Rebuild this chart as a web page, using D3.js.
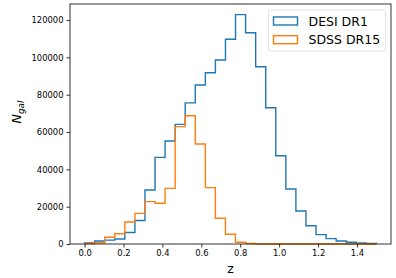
<!DOCTYPE html>
<html>
<head>
<meta charset="utf-8">
<script src="https://cdn.jsdelivr.net/npm/d3@7"></script>
<style>
    body { margin: 0; background: #fff; }
    svg { display: block; font-family: 'DejaVu Sans', sans-serif; }
</style>
</head>
<body>
<div id="chart"></div>
<script>
// === Data: 29 bins, edges linspace(0, 1.5, 30) ===
const binStart = 0;
const binEnd = 1.5;
const binCount = 29;

const desiCounts = [500, 1600, 2100, 2700, 6200, 12600, 28900, 46400, 55200, 64100,
    75600, 85200, 91800, 98600, 109700, 122900, 113200, 95000, 73000, 47300,
    29500, 17700, 9800, 5000, 2900, 1600, 900, 500, 300];

const sdssCounts = [300, 700, 3600, 5500, 11800, 16400, 22700, 21800, 29800, 62900,
    68700, 53600, 30200, 13800, 5200, 900, 250, 0, 0, 0,
    0, 0, 0, 0, 0, 0, 0, 0, 0];

const seriesNames = ['DESI DR1', 'SDSS DR15'];
const seriesColors = ['#1f77b4', '#ff7f0e'];

const xTicks = [0.0, 0.2, 0.4, 0.6, 0.8, 1.0, 1.2, 1.4];
const yTicks = [0, 20000, 40000, 60000, 80000, 100000, 120000];

// === Layout ===
const width = 396;
const height = 278;
const plot = { left: 70, right: 391, top: 4, bottom: 244 };

const svg = d3.select('#chart')
    .append('svg')
    .attr('width', width)
    .attr('height', height);

const x = d3.scaleLinear()
    .domain([-0.075, 1.575])
    .range([plot.left, plot.right]);

const y = d3.scaleLinear()
    .domain([0, 128600])
    .range([plot.bottom, plot.top]);

const edges = d3.range(binCount + 1).map(i => binStart + i * (binEnd - binStart) / binCount);

// step outline, like histtype='step'
function stepPoints(counts) {
    const pts = [[edges[0], 0]];
    counts.forEach((c, i) => {
        pts.push([edges[i], c]);
        pts.push([edges[i + 1], c]);
    });
    pts.push([edges[binCount], 0]);
    return pts;
}

const line = d3.line()
    .x(d => x(d[0]))
    .y(d => y(d[1]));

[desiCounts, sdssCounts].forEach((counts, k) => {
    svg.append('path')
        .attr('d', line(stepPoints(counts)))
        .attr('fill', 'none')
        .attr('stroke', seriesColors[k])
        .attr('stroke-width', 1.4)
        .attr('stroke-linejoin', 'miter');
});

// === Axes ===
const xAxis = svg.append('g')
    .attr('transform', `translate(0,${plot.bottom})`)
    .call(d3.axisBottom(x).tickValues(xTicks).tickFormat(d3.format('.1f')).tickSize(3.5).tickPadding(3));

const yAxis = svg.append('g')
    .attr('transform', `translate(${plot.left},0)`)
    .call(d3.axisLeft(y).tickValues(yTicks).tickFormat(d3.format('d')).tickSize(3.5).tickPadding(3));

[xAxis, yAxis].forEach(ax => {
    ax.select('.domain').remove();
    ax.selectAll('.tick line').attr('stroke', '#000').attr('stroke-width', 0.8);
    ax.selectAll('.tick text')
        .attr('fill', '#000')
        .style('font-family', "'DejaVu Sans', sans-serif")
        .style('font-size', '8.4px');
});

// frame
svg.append('rect')
    .attr('x', plot.left)
    .attr('y', plot.top)
    .attr('width', plot.right - plot.left)
    .attr('height', plot.bottom - plot.top)
    .attr('fill', 'none')
    .attr('stroke', '#000')
    .attr('stroke-width', 0.8);

// axis labels
svg.append('text')
    .attr('x', (plot.left + plot.right) / 2)
    .attr('y', 273)
    .attr('text-anchor', 'middle')
    .style('font-size', '12.5px')
    .text('z');

const yLabel = svg.append('text')
    .attr('transform', 'translate(21,112) rotate(-90)')
    .attr('text-anchor', 'middle')
    .style('font-size', '12.5px');
yLabel.append('tspan').style('font-style', 'italic').text('N');
yLabel.append('tspan')
    .style('font-style', 'italic')
    .style('font-size', '8.8px')
    .attr('dy', 3)
    .text('gal');

// === Legend ===
const legend = svg.append('g');
legend.append('rect')
    .attr('x', 268.5)
    .attr('y', 10)
    .attr('width', 117)
    .attr('height', 41)
    .attr('rx', 2)
    .attr('fill', '#fff')
    .attr('fill-opacity', 0.8)
    .attr('stroke', '#d9d9d9')
    .attr('stroke-width', 0.8);

seriesNames.forEach((name, i) => {
    const cy = 21 + i * 18.7;
    legend.append('rect')
        .attr('x', 273.5)
        .attr('y', cy - 4)
        .attr('width', 24)
        .attr('height', 8)
        .attr('fill', 'none')
        .attr('stroke', seriesColors[i])
        .attr('stroke-width', 1.4);
    legend.append('text')
        .attr('x', 308.5)
        .attr('y', cy)
        .attr('dy', '0.36em')
        .style('font-size', '12.5px')
        .attr('fill', '#000')
        .text(name);
});
</script>
</body>
</html>
